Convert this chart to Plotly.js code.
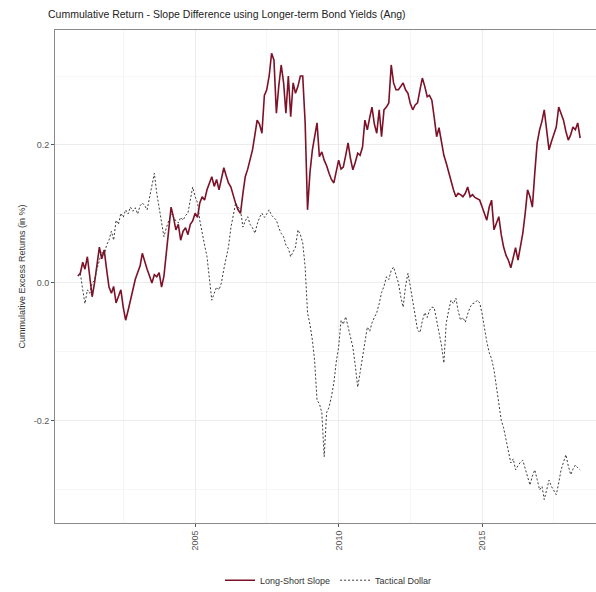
<!DOCTYPE html>
<html>
<head>
<meta charset="utf-8">
<script src="https://cdn.plot.ly/plotly-3.0.1.min.js"></script>
<style>
  html, body { margin: 0; padding: 0; overflow: hidden; background: #fff; }
  #chart { width: 610px; height: 592px; }
</style>
</head>
<body>
<div id="chart"></div>
<script>
// Monthly observations starting December 2000
const startYear = 2000;
const startMonth = 12;

// Cumulative excess return, long-short slope strategy
const longShortSlope = [
  0.010, 0.014, 0.030, 0.020, 0.038, 0.010, -0.020, 0.000, 0.030, 0.052,
  0.035, 0.048, 0.020, -0.006, -0.015, -0.005, -0.029, -0.020, -0.010, -0.035,
  -0.054, -0.040, -0.025, -0.010, 0.005, 0.015, 0.025, 0.043, 0.030, 0.020,
  0.010, 0.000, 0.012, 0.009, 0.015, -0.006, 0.010, 0.043, 0.080, 0.110,
  0.095, 0.077, 0.085, 0.062, 0.075, 0.080, 0.070, 0.085, 0.090, 0.101,
  0.095, 0.116, 0.125, 0.120, 0.135, 0.145, 0.154, 0.140, 0.150, 0.135,
  0.150, 0.167, 0.155, 0.145, 0.139, 0.125, 0.115, 0.106, 0.101, 0.130,
  0.154, 0.165, 0.178, 0.193, 0.215, 0.236, 0.230, 0.217, 0.272, 0.280,
  0.300, 0.333, 0.323, 0.246, 0.285, 0.316, 0.290, 0.246, 0.300, 0.241,
  0.290, 0.275, 0.285, 0.300, 0.300, 0.232, 0.106, 0.160, 0.193, 0.210,
  0.232, 0.183, 0.190, 0.178, 0.170, 0.159, 0.150, 0.145, 0.160, 0.178,
  0.165, 0.168, 0.185, 0.203, 0.180, 0.164, 0.175, 0.188, 0.185, 0.197,
  0.236, 0.222, 0.240, 0.255, 0.230, 0.217, 0.251, 0.212, 0.251, 0.255,
  0.261, 0.316, 0.290, 0.280, 0.280, 0.285, 0.290, 0.280, 0.275, 0.260,
  0.251, 0.258, 0.261, 0.280, 0.297, 0.285, 0.270, 0.272, 0.265, 0.240,
  0.212, 0.225, 0.205, 0.185, 0.174, 0.160, 0.149, 0.135, 0.125, 0.130,
  0.128, 0.125, 0.130, 0.139, 0.125, 0.128, 0.124, 0.122, 0.120, 0.110,
  0.100, 0.091, 0.110, 0.120, 0.077, 0.085, 0.096, 0.070, 0.052, 0.040,
  0.033, 0.022, 0.035, 0.051, 0.033, 0.050, 0.072, 0.100, 0.135, 0.125,
  0.110, 0.160, 0.203, 0.222, 0.235, 0.251, 0.220, 0.193, 0.205, 0.215,
  0.226, 0.255, 0.245, 0.236, 0.220, 0.207, 0.215, 0.226, 0.222, 0.232,
  0.210
];

// Cumulative excess return, tactical dollar strategy
const tacticalDollar = [
  0.010, 0.014, -0.010, -0.030, -0.010, -0.015, 0.000, 0.004, 0.020, 0.033,
  0.045, 0.040, 0.055, 0.062, 0.075, 0.062, 0.091, 0.085, 0.101, 0.095,
  0.106, 0.100, 0.110, 0.104, 0.109, 0.100, 0.112, 0.116, 0.112, 0.106,
  0.125, 0.139, 0.159, 0.130, 0.110, 0.085, 0.067, 0.080, 0.091, 0.100,
  0.096, 0.090, 0.087, 0.095, 0.091, 0.098, 0.101, 0.120, 0.139, 0.125,
  0.116, 0.091, 0.075, 0.055, 0.038, 0.010, -0.025, -0.015, -0.006, -0.010,
  0.000, 0.020, 0.035, 0.052, 0.080, 0.100, 0.116, 0.110, 0.106, 0.081,
  0.090, 0.096, 0.085, 0.080, 0.072, 0.085, 0.095, 0.101, 0.095, 0.100,
  0.106, 0.098, 0.095, 0.091, 0.080, 0.072, 0.067, 0.055, 0.050, 0.038,
  0.045, 0.052, 0.077, 0.070, 0.058, 0.023, -0.043, -0.060, -0.083, -0.112,
  -0.170, -0.175, -0.188, -0.252, -0.188, -0.180, -0.165, -0.145, -0.115, -0.093,
  -0.054, -0.060, -0.049, -0.065, -0.078, -0.093, -0.120, -0.151, -0.130, -0.107,
  -0.085, -0.064, -0.070, -0.058, -0.050, -0.043, -0.030, -0.014, -0.005, 0.009,
  0.005, 0.018, 0.023, 0.010, 0.000, -0.020, -0.035, -0.005, 0.014, -0.005,
  -0.025, -0.045, -0.068, -0.072, -0.055, -0.043, -0.050, -0.040, -0.035, -0.036,
  -0.054, -0.072, -0.090, -0.116, -0.058, -0.040, -0.025, -0.030, -0.022, -0.040,
  -0.054, -0.050, -0.057, -0.045, -0.035, -0.030, -0.029, -0.025, -0.029, -0.045,
  -0.068, -0.085, -0.101, -0.110, -0.126, -0.150, -0.170, -0.199, -0.210, -0.228,
  -0.245, -0.261, -0.255, -0.271, -0.265, -0.260, -0.257, -0.270, -0.280, -0.293,
  -0.280, -0.271, -0.285, -0.300, -0.295, -0.314, -0.300, -0.286, -0.295, -0.300,
  -0.307, -0.290, -0.271, -0.260, -0.249, -0.265, -0.278, -0.270, -0.264, -0.268,
  -0.271
];

const tickDates = ['2005-01-01', '2010-01-01', '2015-01-01'];
const tickLabels = ['2005', '2010', '2015'];
const yTicks = [-0.2, 0.0, 0.2];
const yTickLabels = ['-0.2', '0.0', '0.2'];

// Month-start date strings for each observation
function monthDates(n) {
  const out = [];
  let y = startYear, m = startMonth;
  for (let i = 0; i < n; i++) {
    out.push(y + '-' + String(m).padStart(2, '0') + '-01');
    m++;
    if (m > 12) { m = 1; y++; }
  }
  return out;
}
const dates = monthDates(longShortSlope.length);

const traces = [
  {
    x: dates, y: longShortSlope, type: 'scatter', mode: 'lines',
    name: 'Long-Short Slope',
    line: { color: '#7d1128', width: 1.6 }
  },
  {
    x: dates, y: tacticalDollar, type: 'scatter', mode: 'lines',
    name: 'Tactical Dollar',
    line: { color: '#3a3a3a', width: 1, dash: '2px,2px' }
  }
];

const layout = {
  width: 610, height: 592,
  margin: { l: 55, r: 8, t: 30, b: 69, autoexpand: false },
  paper_bgcolor: '#ffffff',
  plot_bgcolor: '#ffffff',
  font: { family: 'Liberation Sans, Arial, sans-serif', color: '#4d4d4d', size: 9 },
  title: {
    text: 'Cummulative Return - Slope Difference using Longer-term Bond Yields (Ang)',
    font: { size: 10.5, color: '#222222' },
    x: 48 / 610, xanchor: 'left', xref: 'container',
    y: 1 - 14 / 592, yanchor: 'middle', yref: 'container'
  },
  xaxis: {
    type: 'date',
    range: ['2000-02-14', '2019-03-06'],
    tickmode: 'array', tickvals: tickDates, ticktext: tickLabels,
    tickangle: -90,
    ticks: 'outside', ticklen: 3, tickcolor: '#555555',
    tickfont: { size: 9, color: '#555555' },
    showline: true, linecolor: '#8a8a8a', linewidth: 1, mirror: true,
    showgrid: true, gridcolor: '#ececec', gridwidth: 1,
    minor: { showgrid: true, gridcolor: '#f6f6f6', dtick: 'M30', tick0: '2002-07-01' },
    zeroline: false, automargin: false
  },
  yaxis: {
    range: [-0.348, 0.3667],
    tickmode: 'array', tickvals: yTicks, ticktext: yTickLabels,
    ticks: 'outside', ticklen: 3, tickcolor: '#555555',
    tickfont: { size: 9, color: '#555555' },
    showline: true, linecolor: '#8a8a8a', linewidth: 1, mirror: true,
    showgrid: true, gridcolor: '#ececec', gridwidth: 1,
    minor: { showgrid: true, gridcolor: '#f6f6f6', tickvals: [-0.3, -0.1, 0.1, 0.3] },
    zeroline: false, automargin: false,
    title: { text: 'Cummulative Excess Returns (in %)', font: { size: 9, color: '#333333' }, standoff: 6 }
  },
  legend: {
    orientation: 'h',
    x: 0.5, xanchor: 'center',
    y: -0.116, yanchor: 'middle',
    font: { size: 9, color: '#333333' },
    itemwidth: 30,
    bgcolor: 'rgba(0,0,0,0)'
  },
  showlegend: true
};

Plotly.newPlot('chart', traces, layout, { staticPlot: true, displayModeBar: false });
</script>
</body>
</html>
